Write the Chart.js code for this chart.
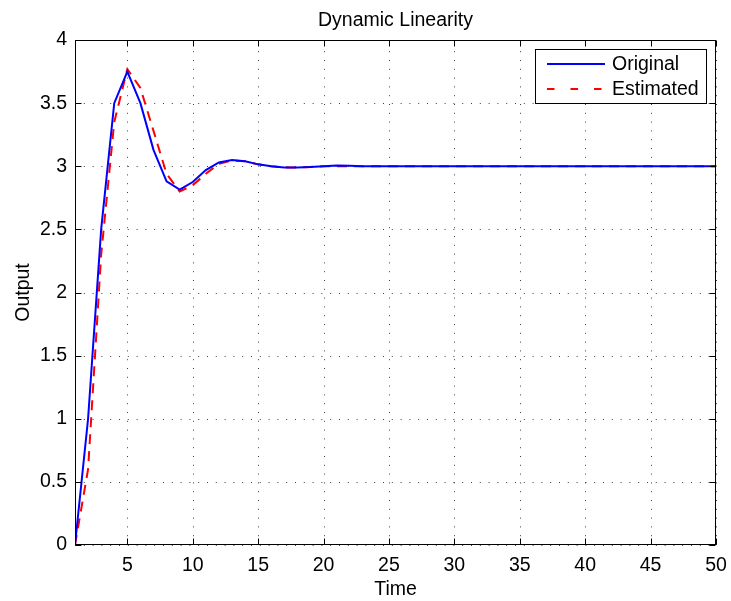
<!DOCTYPE html>
<html>
<head>
<meta charset="utf-8">
<script src="https://cdn.jsdelivr.net/npm/chart.js@4/dist/chart.umd.min.js"></script>
<style>
  html, body { margin: 0; padding: 0; background: #fff; }
  #wrap { width: 731px; height: 601px; position: relative; }
</style>
</head>
<body>
<div id="wrap"><canvas id="c" width="731" height="601"></canvas></div>
<script>
// ---- Data ----
const chartTitle = "Dynamic Linearity";
const xAxisTitle = "Time";
const yAxisTitle = "Output";
const seriesNames = ["Original", "Estimated"];
const time = [1,2,3,4,5,6,7,8,9,10,11,12,13,14,15,16,17,18,19,20,21,22,23,24,25,26,27,28,29,30,31,32,33,34,35,36,37,38,39,40,41,42,43,44,45,46,47,48,49,50];
const original = [0, 1.0, 2.5, 3.5, 3.75, 3.5, 3.13, 2.88, 2.815, 2.875, 2.97, 3.03, 3.05, 3.04, 3.015, 3.0, 2.99, 2.99, 2.995, 3.0, 3.005, 3.003, 3.0, 3.0, 3.0, 3.0, 3.0, 3.0, 3.0, 3.0, 3.0, 3.0, 3.0, 3.0, 3.0, 3.0, 3.0, 3.0, 3.0, 3.0, 3.0, 3.0, 3.0, 3.0, 3.0, 3.0, 3.0, 3.0, 3.0, 3.0];
const estimated = [0, 0.6, 2.3, 3.35, 3.77, 3.62, 3.28, 2.94, 2.80, 2.85, 2.94, 3.02, 3.045, 3.04, 3.015, 3.0, 2.99, 2.99, 2.995, 3.0, 3.0, 3.0, 3.0, 3.0, 3.0, 3.0, 3.0, 3.0, 3.0, 3.0, 3.0, 3.0, 3.0, 3.0, 3.0, 3.0, 3.0, 3.0, 3.0, 3.0, 3.0, 3.0, 3.0, 3.0, 3.0, 3.0, 3.0, 3.0, 3.0, 3.0];
const xTickValues = [5,10,15,20,25,30,35,40,45,50];
const yTickLabels = ["0","0.5","1","1.5","2","2.5","3","3.5","4"];
const yTickValues = [0,0.5,1,1.5,2,2.5,3,3.5,4];

// ---- Style ----
const FONT = "Liberation Sans, Arial, Helvetica, sans-serif";
const FS = 19.5;
const colors = ["#0000ff", "#ff0000"];
const dashes = [[], [10, 7]];

const toXY = (ys) => ys.map((v, i) => ({ x: time[i], y: v }));

const framePlugin = {
  id: 'frame',
  beforeDatasetsDraw(chart) {
    const { ctx, chartArea: a, scales } = chart;
    ctx.save();
    ctx.strokeStyle = 'rgba(0,0,0,0.75)';
    ctx.lineWidth = 1;
    ctx.setLineDash([1, 7.8]);
    xTickValues.forEach(v => {
      const px = Math.round(scales.x.getPixelForValue(v)) + 0.5;
      ctx.beginPath(); ctx.moveTo(px, a.bottom); ctx.lineTo(px, a.top); ctx.stroke();
    });
    yTickValues.forEach(v => {
      const py = Math.round(scales.y.getPixelForValue(v)) + 0.5;
      ctx.beginPath(); ctx.moveTo(a.left, py); ctx.lineTo(a.right, py); ctx.stroke();
    });
    ctx.restore();
  },
  afterDatasetsDraw(chart) {
    const { ctx, chartArea: a, scales } = chart;
    ctx.save();
    ctx.strokeStyle = '#000';
    ctx.lineWidth = 1;
    ctx.setLineDash([]);
    const L = Math.round(a.left) + 0.5, R = Math.round(a.right) - 0.5;
    const T = Math.round(a.top) + 0.5, B = Math.round(a.bottom) - 0.5;
    ctx.strokeRect(L, T, R - L, B - T);
    const tl = 6;
    xTickValues.forEach(v => {
      const px = Math.round(scales.x.getPixelForValue(v)) + 0.5;
      ctx.beginPath();
      ctx.moveTo(px, B); ctx.lineTo(px, B - tl);
      ctx.moveTo(px, T); ctx.lineTo(px, T + tl);
      ctx.stroke();
    });
    yTickValues.forEach(v => {
      const py = Math.round(scales.y.getPixelForValue(v)) + 0.5;
      ctx.beginPath();
      ctx.moveTo(L, py); ctx.lineTo(L + tl, py);
      ctx.moveTo(R, py); ctx.lineTo(R - tl, py);
      ctx.stroke();
    });

    // Titles
    ctx.fillStyle = '#000';
    ctx.font = FS + 'px ' + FONT;
    ctx.textAlign = 'center';
    ctx.textBaseline = 'alphabetic';
    ctx.fillText(chartTitle, (a.left + a.right) / 2, 26);
    ctx.fillText(xAxisTitle, (a.left + a.right) / 2, 595);
    ctx.save();
    ctx.translate(29, (a.top + a.bottom) / 2);
    ctx.rotate(-Math.PI / 2);
    ctx.fillText(yAxisTitle, 0, 0);
    ctx.restore();

    // Legend
    const bx = 535.5, by = 49.5, bw = 171, bh = 54;
    ctx.fillStyle = '#fff';
    ctx.fillRect(bx, by, bw, bh);
    ctx.strokeStyle = '#000';
    ctx.lineWidth = 1;
    ctx.strokeRect(bx, by, bw, bh);
    const rows = [64, 89];
    chart.data.datasets.forEach((ds, i) => {
      ctx.strokeStyle = ds.borderColor;
      ctx.lineWidth = ds.borderWidth;
      ctx.setLineDash(i === 1 ? [7.5, 16] : []);
      ctx.beginPath();
      ctx.moveTo(547, rows[i]); ctx.lineTo(605, rows[i]);
      ctx.stroke();
      ctx.setLineDash([]);
      ctx.fillStyle = '#000';
      ctx.textAlign = 'left';
      ctx.textBaseline = 'middle';
      ctx.font = FS + 'px ' + FONT;
      ctx.fillText(ds.label, 612, rows[i] + 1);
    });
    ctx.restore();
  }
};

new Chart(document.getElementById('c'), {
  type: 'line',
  data: {
    datasets: [
      { label: seriesNames[0], data: toXY(original), borderColor: colors[0], backgroundColor: colors[0], borderWidth: 2, borderDash: dashes[0], pointRadius: 0, tension: 0, fill: false },
      { label: seriesNames[1], data: toXY(estimated), borderColor: colors[1], backgroundColor: colors[1], borderWidth: 2, borderDash: dashes[1], pointRadius: 0, tension: 0, fill: false }
    ]
  },
  options: {
    responsive: false,
    animation: false,
    devicePixelRatio: 1,
    layout: { padding: { left: 0, top: 40, right: 15, bottom: 0 } },
    plugins: { legend: { display: false }, title: { display: false }, tooltip: { enabled: false } },
    scales: {
      x: {
        type: 'linear', min: 1, max: 50,
        afterBuildTicks: (s) => { s.ticks = xTickValues.map(v => ({ value: v })); },
        afterFit: (s) => { s.height = 56; s.paddingLeft = 0; s.paddingRight = 0; },
        grid: { display: false, drawTicks: false },
        border: { display: false },
        ticks: { color: '#000', padding: 9, maxRotation: 0, autoSkip: false, font: { family: FONT, size: FS }, callback: (v) => String(v) }
      },
      y: {
        type: 'linear', min: 0, max: 4,
        afterBuildTicks: (s) => { s.ticks = yTickValues.map(v => ({ value: v })); },
        afterFit: (s) => { s.width = 75; s.paddingTop = 0; s.paddingBottom = 0; },
        grid: { display: false, drawTicks: false },
        border: { display: false },
        ticks: { color: '#000', padding: 8, autoSkip: false, font: { family: FONT, size: FS }, callback: (v) => yTickLabels[yTickValues.indexOf(v)] }
      }
    }
  },
  plugins: [framePlugin]
});
</script>
</body>
</html>
